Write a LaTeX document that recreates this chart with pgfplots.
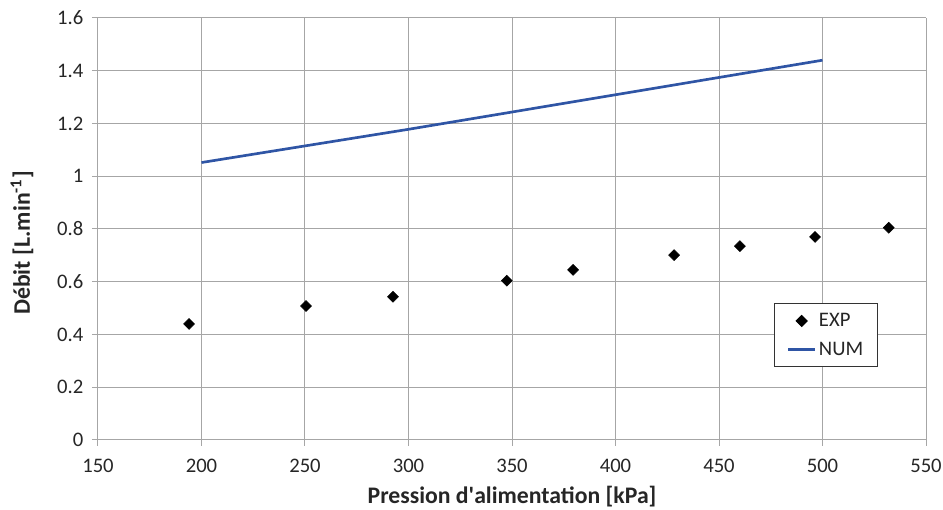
\documentclass[border=0pt]{standalone}
\usepackage{pgfplots}
\pgfplotsset{compat=1.18}
\usepackage{fontspec}
\setmainfont{Carlito}
\definecolor{numblue}{RGB}{47,85,165}
\definecolor{gridgray}{RGB}{166,166,166}
\begin{document}
\begin{tikzpicture}[x=1pt,y=1pt]
\useasboundingbox (-73.5,-52.5) rectangle (633.75,330);
\begin{axis}[
  at={(0,0)}, anchor=south west,
  scale only axis, width=621pt, height=316.5pt,
  xmin=150, xmax=550, ymin=0, ymax=1.6,
  xtick={150,200,...,550}, ytick={0,0.2,...,1.6},
  yticklabels={0,0.2,0.4,0.6,0.8,1,1.2,1.4,1.6},
  grid=major, major grid style={gridgray, line width=0.75pt},
  axis line style={gridgray, line width=0.75pt},
  tick style={gridgray, line width=0.75pt},
  tick align=outside, major tick length=4.5pt,
  axis x line*=bottom, axis y line*=left,
  x axis line style={-}, y axis line style={-},
  /pgf/number format/assume math mode=true,
  ticklabel style={font=\fontsize{15.5}{18}\selectfont, text=black!85},
  xticklabel style={yshift=-6pt},
  yticklabel style={xshift=-3pt},
  xlabel={\textbf{Pression d\textquotesingle alimentation [kPa]}},
  ylabel={\textbf{Débit [L.min\textsuperscript{-1}]}},
  label style={font=\fontsize{17.8}{20}\selectfont, text=black!85},
  xlabel style={at={([yshift=-42.75pt]axis description cs:0.5,0)}, anchor=center},
  ylabel style={at={([xshift=-57pt,yshift=-10.5pt]axis description cs:0,0.5)}, anchor=center},
  legend style={at={(0.817,0.173)}, anchor=south west, draw=black!80, line width=0.75pt,
    font=\fontsize{15.5}{18}\selectfont, text=black!85, inner xsep=9pt, inner ysep=5pt, row sep=6pt},
  legend cell align=left,
  legend image code/.code={
    \draw[mark repeat=2,mark phase=2] plot coordinates {(0pt,0pt) (10pt,0pt) (20pt,0pt)};
  },
]
\addplot[only marks, mark=square*, mark size=2.9pt, black, mark options={fill=black, rotate=45}] coordinates {
(194,0.44) (250.5,0.508) (292.5,0.543) (347.5,0.604) (379.5,0.645) (428.3,0.701) (460.1,0.735) (496.4,0.770) (532,0.805)
};
\addlegendentry{EXP}
\addplot[numblue, line width=2pt, mark=none] coordinates {
(200,1.052) (300,1.178) (400,1.309) (500,1.440)
};
\addlegendentry{NUM}
\end{axis}
\end{tikzpicture}
\end{document}
